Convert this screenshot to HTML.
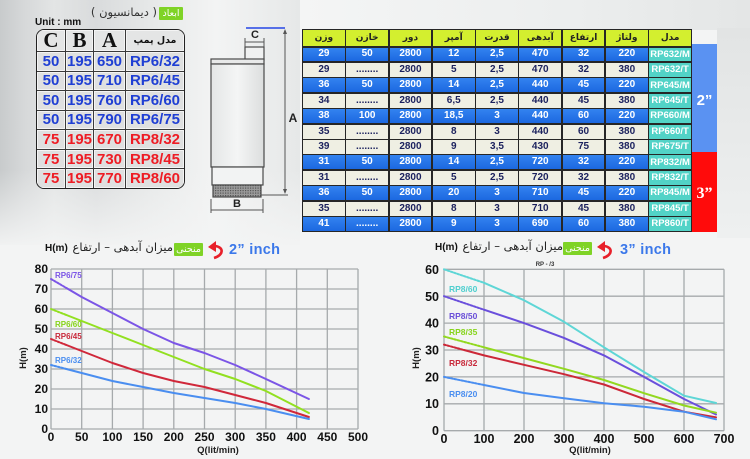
<!DOCTYPE html>
<html><head><meta charset="utf-8">
<style>
html,body{margin:0;padding:0;}
body{width:750px;height:459px;position:relative;overflow:hidden;background:#f3f4f4;font-family:"Liberation Sans","DejaVu Sans",sans-serif;}
.abs{position:absolute;}
.bgtop{left:0;top:0;width:300px;height:245px;background:linear-gradient(to right,#c8cbcc 0,#d6d8d9 8%,#e3e5e5 18%,#d9dbdc 32%,#e6e8e8 50%,#f3f4f4 72%,#e6e8e8 100%);}
.bgfade{left:0;top:170px;width:300px;height:80px;background:linear-gradient(to bottom,rgba(243,244,244,0) 0,#f3f4f4 100%);}
.bgtr{left:300px;top:0;width:450px;height:30px;background:linear-gradient(to right,#f4f5f5,#eceeee 60%,#e4e6e6);}
.bgr{left:717px;top:28px;width:33px;height:210px;background:linear-gradient(to bottom,#e2e4e4,#eef0f0);}
.ltab{left:36px;top:29px;width:149px;height:160px;box-sizing:border-box;border:1.5px solid #222;border-radius:8px;overflow:hidden;background:#3a3a3a;display:grid;grid-template-columns:28fr 27fr 31fr 58fr;grid-template-rows:repeat(8,1fr);gap:1px;}
.ltab div{background:#dfe0e0;box-shadow:inset 0 0 0 1px #f4f4f4;display:flex;align-items:center;justify-content:center;font-weight:bold;font-size:15px;line-height:1;}
.ltab .hd{font-family:"Liberation Serif",serif;font-size:21px;color:#111;background:#e4e5e5;}
.ltab .hp{font-family:"DejaVu Sans",sans-serif;font-size:9.5px;color:#111;background:#e4e5e5;}
.bl{color:#1f3fd4;}
.rd{color:#ee1c24;}
.rtab{left:302px;top:29px;width:390px;height:203px;box-sizing:border-box;background:#262626;padding:1px;display:grid;grid-template-columns:repeat(9,1fr);grid-template-rows:16px repeat(12,1fr);gap:1.5px;}
.rtab div{display:flex;align-items:center;justify-content:center;font-weight:bold;font-size:10px;line-height:1;white-space:nowrap;overflow:hidden;}
.rtab .h{background:#d3ef2f;color:#222;font-family:"DejaVu Sans",sans-serif;font-size:9px;}
.rtab .b{background:linear-gradient(#3383f0,#1c68e0);color:#fff;}
.rtab .c{background:#efefe3;color:#1b215e;}
.rtab .m{background:#52d3c7;color:#fff;font-size:9.5px;}
.ar{font-family:"DejaVu Sans",sans-serif;direction:rtl;white-space:nowrap;}
.gbox{background:#7fd326;color:#fff;font-family:"DejaVu Sans",sans-serif;font-size:9.5px;display:flex;align-items:center;justify-content:center;border-radius:1px;}
</style></head><body>
<div class="abs bgtop"></div>
<div class="abs bgfade"></div>
<div class="abs bgtr"></div>
<div class="abs bgr"></div>

<div class="abs gbox" style="left:159px;top:7px;width:24px;height:13px;">ابعاد</div>
<div class="abs ar" style="right:593px;top:5px;font-size:11.5px;color:#333;">( دیمانسیون )</div>
<div class="abs" style="left:35px;top:17px;font-size:10px;font-weight:bold;color:#111;">Unit : mm</div>

<div class="abs ltab">
<div class="hd">C</div><div class="hd">B</div><div class="hd">A</div><div class="hp">مدل پمپ</div>
<div class="bl">50</div><div class="bl">195</div><div class="bl">650</div><div class="bl">RP6/32</div>
<div class="bl">50</div><div class="bl">195</div><div class="bl">710</div><div class="bl">RP6/45</div>
<div class="bl">50</div><div class="bl">195</div><div class="bl">760</div><div class="bl">RP6/60</div>
<div class="bl">50</div><div class="bl">195</div><div class="bl">790</div><div class="bl">RP6/75</div>
<div class="rd">75</div><div class="rd">195</div><div class="rd">670</div><div class="rd">RP8/32</div>
<div class="rd">75</div><div class="rd">195</div><div class="rd">730</div><div class="rd">RP8/45</div>
<div class="rd">75</div><div class="rd">195</div><div class="rd">770</div><div class="rd">RP8/60</div>
</div>

<div class="abs rtab">
<div class="h">وزن</div><div class="h">خازن</div><div class="h">دور</div><div class="h">آمپر</div><div class="h">قدرت</div><div class="h">آبدهی</div><div class="h">ارتفاع</div><div class="h">ولتاژ</div><div class="h">مدل</div>
<div class="b">29</div><div class="b">50</div><div class="b">2800</div><div class="b">12</div><div class="b">2,5</div><div class="b">470</div><div class="b">32</div><div class="b">220</div><div class="m">RP632/M</div>
<div class="c">29</div><div class="c">........</div><div class="c">2800</div><div class="c">5</div><div class="c">2,5</div><div class="c">470</div><div class="c">32</div><div class="c">380</div><div class="m">RP632/T</div>
<div class="b">36</div><div class="b">50</div><div class="b">2800</div><div class="b">14</div><div class="b">2,5</div><div class="b">440</div><div class="b">45</div><div class="b">220</div><div class="m">RP645/M</div>
<div class="c">34</div><div class="c">........</div><div class="c">2800</div><div class="c">6,5</div><div class="c">2,5</div><div class="c">440</div><div class="c">45</div><div class="c">380</div><div class="m">RP645/T</div>
<div class="b">38</div><div class="b">100</div><div class="b">2800</div><div class="b">18,5</div><div class="b">3</div><div class="b">440</div><div class="b">60</div><div class="b">220</div><div class="m">RP660/M</div>
<div class="c">35</div><div class="c">........</div><div class="c">2800</div><div class="c">8</div><div class="c">3</div><div class="c">440</div><div class="c">60</div><div class="c">380</div><div class="m">RP660/T</div>
<div class="c">39</div><div class="c">........</div><div class="c">2800</div><div class="c">9</div><div class="c">3,5</div><div class="c">430</div><div class="c">75</div><div class="c">380</div><div class="m">RP675/T</div>
<div class="b">31</div><div class="b">50</div><div class="b">2800</div><div class="b">14</div><div class="b">2,5</div><div class="b">720</div><div class="b">32</div><div class="b">220</div><div class="m">RP832/M</div>
<div class="c">31</div><div class="c">........</div><div class="c">2800</div><div class="c">5</div><div class="c">2,5</div><div class="c">720</div><div class="c">32</div><div class="c">380</div><div class="m">RP832/T</div>
<div class="b">36</div><div class="b">50</div><div class="b">2800</div><div class="b">20</div><div class="b">3</div><div class="b">710</div><div class="b">45</div><div class="b">220</div><div class="m">RP845/M</div>
<div class="c">35</div><div class="c">........</div><div class="c">2800</div><div class="c">8</div><div class="c">3</div><div class="c">710</div><div class="c">45</div><div class="c">380</div><div class="m">RP845/T</div>
<div class="b">41</div><div class="b">........</div><div class="b">2800</div><div class="b">9</div><div class="b">3</div><div class="b">690</div><div class="b">60</div><div class="b">380</div><div class="m">RP860/T</div>
</div>
<div class="abs" style="left:692px;top:44px;width:25px;height:108px;background:#5a92f2;"></div>
<div class="abs" style="left:692px;top:152px;width:25px;height:80px;background:#ff0b0b;"></div>
<div class="abs" style="left:692px;top:92px;width:25px;text-align:center;color:#fff;font-weight:bold;font-size:15px;">2”</div>
<div class="abs" style="left:692px;top:185px;width:25px;text-align:center;color:#fff;font-weight:bold;font-size:16px;font-family:'Liberation Serif',serif;">3”</div>

<div class="abs" style="left:45px;top:243px;font-size:10px;font-weight:bold;color:#111;">H(m)</div>
<div class="abs ar" style="right:577px;top:240px;font-size:11.5px;color:#222;">میزان آبدهی – ارتفاع</div>
<div class="abs gbox" style="left:174px;top:243px;width:29px;height:13px;">منحنی</div>
<div class="abs" style="left:435px;top:242px;font-size:10px;font-weight:bold;color:#111;">H(m)</div>
<div class="abs ar" style="right:187px;top:239px;font-size:11.5px;color:#222;">میزان آبدهی – ارتفاع</div>
<div class="abs gbox" style="left:563px;top:242px;width:29px;height:13px;">منحنی</div>

<svg class="abs" style="left:0;top:0" width="750" height="459" viewBox="0 0 750 459" xmlns="http://www.w3.org/2000/svg">
<defs>
<linearGradient id="bodyg" x1="0" x2="1" y1="0" y2="0"><stop offset="0" stop-color="#e4e6e6"/><stop offset="0.5" stop-color="#f4f5f5"/><stop offset="1" stop-color="#dcdede"/></linearGradient>
<pattern id="mesh" width="2.5" height="2.5" patternUnits="userSpaceOnUse"><rect width="2.5" height="2.5" fill="#9a9a9a"/><rect width="1.2" height="1.2" fill="#555"/></pattern>
</defs>
<g stroke="#4a4a4a" stroke-width="1.2">
<rect x="245" y="47" width="19" height="13" fill="#f0f1f1"/>
<rect x="211" y="59" width="53" height="5" fill="#e8e9e9"/>
<rect x="211" y="64" width="53" height="103" fill="url(#bodyg)"/>
<rect x="212" y="167" width="51" height="18" fill="#f2f3f3"/>
<rect x="213" y="185" width="48" height="12" fill="url(#mesh)"/>
</g>
<g stroke="#555" stroke-width="1" fill="none">
<line x1="211" y1="199" x2="211" y2="213"/><line x1="263" y1="199" x2="263" y2="213"/>
<line x1="211" y1="210" x2="263" y2="210"/>
<line x1="285" y1="30" x2="285" y2="193"/>
<line x1="261" y1="195" x2="288" y2="195"/>
<line x1="245" y1="38" x2="245" y2="47"/><line x1="264" y1="38" x2="264" y2="47"/>
<line x1="245" y1="42" x2="264" y2="42"/>
</g>
<polygon points="285,29 283,34 287,34" fill="#555"/><polygon points="285,194 283,189 287,189" fill="#555"/>
<line x1="246" y1="28" x2="285" y2="28" stroke="#2546e6" stroke-width="1.5"/>
<text x="255" y="38" font-size="11" font-weight="bold" text-anchor="middle" fill="#222">C</text>
<text x="293" y="122" font-size="12" font-weight="bold" text-anchor="middle" fill="#222">A</text>
<text x="237" y="207" font-size="11" font-weight="bold" text-anchor="middle" fill="#222">B</text>

<path d="M214,258 C224,255 224,247 215,246" stroke="#e8202a" stroke-width="2.6" fill="none"/>
<polygon points="208,247 216,241 216,252" fill="#e8202a"/>
<text x="229" y="254" font-size="14.5" font-weight="bold" fill="#3b78ea" textLength="51">2” inch</text>
<path d="M603,258 C613,255 613,247 604,246" stroke="#e8202a" stroke-width="2.6" fill="none"/>
<polygon points="597,247 605,241 605,252" fill="#e8202a"/>
<text x="620" y="254" font-size="14.5" font-weight="bold" fill="#3b78ea" textLength="51">3” inch</text>
<text x="545" y="266" font-size="6" font-weight="bold" text-anchor="middle" fill="#333">RP - /3</text>

<g stroke="#a6aaac" stroke-width="1.3">
<line x1="51" y1="269" x2="51" y2="429"/><line x1="81.7" y1="269" x2="81.7" y2="429"/><line x1="112.4" y1="269" x2="112.4" y2="429"/><line x1="143.1" y1="269" x2="143.1" y2="429"/><line x1="173.8" y1="269" x2="173.8" y2="429"/><line x1="204.5" y1="269" x2="204.5" y2="429"/><line x1="235.2" y1="269" x2="235.2" y2="429"/><line x1="265.9" y1="269" x2="265.9" y2="429"/><line x1="296.6" y1="269" x2="296.6" y2="429"/><line x1="327.3" y1="269" x2="327.3" y2="429"/><line x1="358" y1="269" x2="358" y2="429"/>
<line x1="51" y1="269" x2="358" y2="269"/><line x1="51" y1="289" x2="358" y2="289"/><line x1="51" y1="309" x2="358" y2="309"/><line x1="51" y1="329" x2="358" y2="329"/><line x1="51" y1="349" x2="358" y2="349"/><line x1="51" y1="369" x2="358" y2="369"/><line x1="51" y1="389" x2="358" y2="389"/><line x1="51" y1="409" x2="358" y2="409"/><line x1="51" y1="429" x2="358" y2="429"/>
</g>
<g font-size="12" font-weight="bold" fill="#111" text-anchor="end">
<text x="48" y="273">80</text><text x="48" y="293">70</text><text x="48" y="313">60</text><text x="48" y="333">50</text><text x="48" y="353">40</text><text x="48" y="373">30</text><text x="48" y="393">20</text><text x="48" y="413">10</text><text x="48" y="433">0</text>
</g>
<g font-size="12" font-weight="bold" fill="#111" text-anchor="middle">
<text x="51" y="441">0</text><text x="81.7" y="441">50</text><text x="112.4" y="441">100</text><text x="143.1" y="441">150</text><text x="173.8" y="441">200</text><text x="204.5" y="441">250</text><text x="235.2" y="441">300</text><text x="265.9" y="441">350</text><text x="296.6" y="441">400</text><text x="327.3" y="441">450</text><text x="358" y="441">500</text>
</g>
<text x="218" y="453" font-size="9.5" font-weight="bold" fill="#222" text-anchor="middle">Q(lit/min)</text>
<text transform="translate(26,358) rotate(-90)" font-size="9.5" font-weight="bold" fill="#222" text-anchor="middle">H(m)</text>
<g fill="none" stroke-width="2" stroke-linejoin="round" stroke-linecap="round">
<path d="M51,279 L66.4,288" stroke="#7b55e6" stroke-dasharray="2,1.5"/>
<polyline stroke="#7b55e6" points="66.4,288 81.7,297 112.4,313 143.1,329 173.8,343 204.5,353 235.2,365 265.9,379 308.9,399"/>
<path d="M51,309 L66.4,315" stroke="#92e020" stroke-dasharray="2,1.5"/>
<polyline stroke="#92e020" points="66.4,315 81.7,321 112.4,333 143.1,345 173.8,357 204.5,369 235.2,379 265.9,391 308.9,413"/>
<path d="M51,339 L66.4,345" stroke="#d0283a" stroke-dasharray="2,1.5"/>
<polyline stroke="#d0283a" points="66.4,345 81.7,351 112.4,363 143.1,373 173.8,381 204.5,387 235.2,395 265.9,403 308.9,417"/>
<path d="M51,365 L66.4,369" stroke="#4a8ef0" stroke-dasharray="2,1.5"/>
<polyline stroke="#4a8ef0" points="66.4,369 81.7,373 112.4,381 143.1,387 173.8,393 204.5,398 235.2,403 265.9,409 308.9,419"/>
</g>
<g font-size="8" font-weight="bold">
<text x="55" y="278" fill="#7b55e6">RP6/75</text>
<text x="55" y="327" fill="#86d41a">RP6/60</text>
<text x="55" y="339" fill="#c8283a">RP6/45</text>
<text x="55" y="363" fill="#4a8ef0">RP6/32</text>
</g>

<g stroke="#a6aaac" stroke-width="1.3">
<line x1="444" y1="269.3" x2="444" y2="430.7"/><line x1="484" y1="269.3" x2="484" y2="430.7"/><line x1="524" y1="269.3" x2="524" y2="430.7"/><line x1="564" y1="269.3" x2="564" y2="430.7"/><line x1="604" y1="269.3" x2="604" y2="430.7"/><line x1="644" y1="269.3" x2="644" y2="430.7"/><line x1="684" y1="269.3" x2="684" y2="430.7"/><line x1="724" y1="269.3" x2="724" y2="430.7"/>
<line x1="444" y1="269.3" x2="724" y2="269.3"/><line x1="444" y1="296.2" x2="724" y2="296.2"/><line x1="444" y1="323.1" x2="724" y2="323.1"/><line x1="444" y1="350" x2="724" y2="350"/><line x1="444" y1="376.9" x2="724" y2="376.9"/><line x1="444" y1="403.8" x2="724" y2="403.8"/><line x1="444" y1="430.7" x2="724" y2="430.7"/>
</g>
<g font-size="12.5" font-weight="bold" fill="#111" text-anchor="end">
<text x="439" y="274">60</text><text x="439" y="301">50</text><text x="439" y="327.5">40</text><text x="439" y="354.5">30</text><text x="439" y="381.5">20</text><text x="439" y="408">10</text><text x="439" y="435">0</text>
</g>
<g font-size="12.5" font-weight="bold" fill="#111" text-anchor="middle">
<text x="444" y="443">0</text><text x="484" y="443">100</text><text x="524" y="443">200</text><text x="564" y="443">300</text><text x="604" y="443">400</text><text x="644" y="443">500</text><text x="684" y="443">600</text><text x="724" y="443">700</text>
</g>
<text x="590" y="453" font-size="9.5" font-weight="bold" fill="#222" text-anchor="middle">Q(lit/min)</text>
<text transform="translate(419,358) rotate(-90)" font-size="9.5" font-weight="bold" fill="#222" text-anchor="middle">H(m)</text>
<g fill="none" stroke-width="2" stroke-linejoin="round" stroke-linecap="round">
<path d="M444,269.3 L484,282.8" stroke="#5ed6d6" stroke-dasharray="2,1.5"/>
<polyline stroke="#5ed6d6" points="484,282.8 524,300.2 564,321.8 604,347.3 644,372 684,395.7 716,403"/>
<path d="M444,296.2 L484,309.7" stroke="#6a4fdc" stroke-dasharray="2,1.5"/>
<polyline stroke="#6a4fdc" points="484,309.7 524,323.1 564,337.9 604,355.4 644,376.9 684,399 716,414.5"/>
<path d="M444,336.5 L484,347.3" stroke="#92d820" stroke-dasharray="2,1.5"/>
<polyline stroke="#92d820" points="484,347.3 524,358.1 564,368.8 604,380 644,393.2 684,405.5 716,412.7"/>
<path d="M444,344.6 L464,350" stroke="#cc2838" stroke-dasharray="2,1.5"/>
<polyline stroke="#cc2838" points="464,350 484,355.4 524,364.8 564,374.2 604,384.5 644,399 684,411.7 716,417.3"/>
<path d="M444,376.9 L484,385" stroke="#4a8ef0" stroke-dasharray="2,1.5"/>
<polyline stroke="#4a8ef0" points="484,385 524,393 564,398.3 604,403.3 644,406.7 684,411.7 716,419.3"/>
</g>
<g font-size="8.5" font-weight="bold">
<text x="449" y="292" fill="#4fcfcf">RP8/60</text>
<text x="449" y="319" fill="#6a4fd8">RP8/50</text>
<text x="449" y="335" fill="#86d41a">RP8/35</text>
<text x="449" y="366" fill="#c8283a">RP8/32</text>
<text x="449" y="397" fill="#4a8ef0">RP8/20</text>
</g>
</svg>
</body></html>
